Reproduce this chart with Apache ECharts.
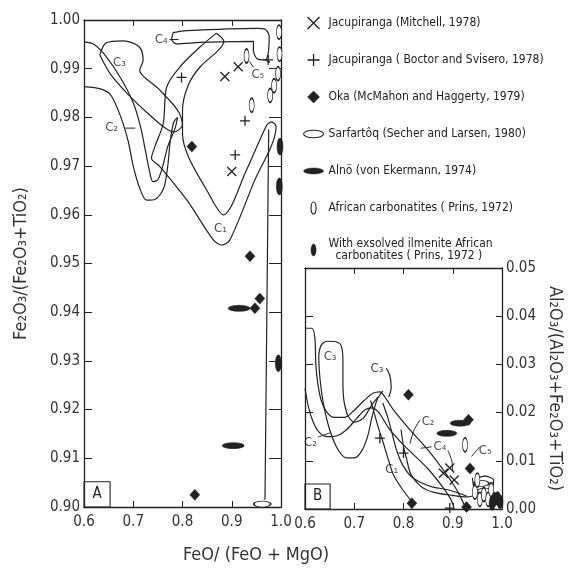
<!DOCTYPE html>
<html>
<head>
<meta charset="utf-8">
<script src="https://cdn.jsdelivr.net/npm/echarts/dist/echarts.min.js"></script>
<style>html,body{margin:0;padding:0;background:#fff}#main{width:569px;height:568px}</style>
</head>
<body>
<div id="main"></div>
<script>
// ---- data: panel A  (x = FeO/(FeO+MgO), y = Fe2O3/(Fe2O3+TiO2)) ----
var a_C1 = [[0.869,0.9973],[0.884,0.9956],[0.873,0.9938],[0.836,0.9904],[0.812,0.9867],[0.800,0.9815],[0.800,0.9767],[0.812,0.9719],[0.849,0.9651],[0.883,0.9600],[0.930,0.9692],[0.971,0.9784],[0.981,0.9791],[0.990,0.9781],[0.944,0.9665],[0.896,0.9548],[0.880,0.9538],[0.863,0.9548],[0.809,0.9630],[0.754,0.9699],[0.737,0.9716],[0.744,0.9740],[0.761,0.9788],[0.768,0.9863],[0.795,0.9904],[0.836,0.9945],[0.869,0.9973]];
var a_C2 = [[0.600,0.9863],[0.635,0.9858],[0.655,0.9845],[0.675,0.9800],[0.690,0.9750],[0.700,0.9700],[0.713,0.9655],[0.727,0.9630],[0.745,0.9632],[0.762,0.9655],[0.770,0.9700],[0.775,0.9750],[0.782,0.9790],[0.790,0.9800],[0.785,0.9778],[0.770,0.9740],[0.760,0.9700],[0.750,0.9672],[0.740,0.9668],[0.733,0.9690],[0.725,0.9730],[0.715,0.9780],[0.700,0.9830],[0.675,0.9880],[0.645,0.9925],[0.620,0.9950],[0.600,0.9955]];
var a_C3 = [[0.632,0.9928],[0.645,0.9953],[0.680,0.9957],[0.712,0.9945],[0.720,0.9917],[0.713,0.9897],[0.750,0.9860],[0.790,0.9815],[0.800,0.9785],[0.783,0.9770],[0.765,0.9778],[0.730,0.9808],[0.687,0.9850],[0.653,0.9890],[0.632,0.9928]];
var a_C4 = [[0.781,0.9974],[0.809,0.9978],[0.951,0.9983],[0.968,0.9981],[0.976,0.9966],[0.974,0.9932],[0.968,0.9918],[0.951,0.9921],[0.944,0.9938],[0.944,0.9956],[0.836,0.9954],[0.788,0.9951],[0.778,0.9960],[0.781,0.9974]];
var a_C4hook = [[0.968,0.9918],[0.978,0.9913]];
var a_sarfRange = [[0.975,0.9775],[0.9675,0.9015]];
var a_leaders = [[[0.774,0.9960],[0.792,0.9960]], [[0.684,0.9778],[0.704,0.9778]], [[0.944,0.9903],[0.936,0.9915]]];
var a_cLabels = [[0.877,0.9572,'C₁'],[0.656,0.9778,'C₂'],[0.672,0.9912,'C₃'],[0.757,0.9960,'C₄'],[0.953,0.9888,'C₅']];

var a_mitchell = [[0.886,0.9884],[0.913,0.9904],[0.900,0.9689]];
var a_boctor = [[0.798,0.9882],[0.907,0.9723],[0.927,0.9793],[0.974,0.9918]];
var a_oka = [[0.819,0.9740],[0.937,0.9515],[0.957,0.9428],[0.947,0.9408],[0.825,0.9025]];
var a_sarf = [[0.962,0.9006]];
var a_alno = [[0.915,0.9408],[0.903,0.9126]];
var a_african = [[0.930,0.9926],[0.9405,0.9825],[0.978,0.9845],[0.986,0.9865],[0.994,0.9890],[0.997,0.9930],[0.996,0.9975]];
var a_exsolved = [[0.9966,0.9658],[0.9946,0.9295],[0.998,0.9740]];

// ---- data: panel B  (x = FeO/(FeO+MgO), y = Al2O3/(Al2O3+Fe2O3+TiO2)) ----
var b_top = [[0.600,0.0375],[0.614,0.0375],[0.620,0.0355],[0.622,0.0300],[0.626,0.0260],[0.633,0.0225],[0.645,0.0200],[0.660,0.0190],[0.680,0.0190],[0.700,0.0205],[0.720,0.0225],[0.738,0.0240],[0.752,0.0243],[0.765,0.0228],[0.780,0.0205],[0.810,0.0168],[0.850,0.0122],[0.885,0.0075],[0.905,0.0045],[0.918,0.0020],[0.925,0.0005]];
var b_C3 = [[0.686,0.0195],[0.679,0.0225],[0.677,0.0265],[0.677,0.0310],[0.673,0.0340],[0.662,0.0347],[0.645,0.0348],[0.633,0.0340],[0.628,0.0315],[0.631,0.0265],[0.638,0.0215],[0.650,0.0165],[0.666,0.0125],[0.684,0.0106],[0.700,0.0106],[0.715,0.0120],[0.727,0.0150],[0.737,0.0195],[0.747,0.0228],[0.758,0.0245]];
var b_C3in = [[0.686,0.0195],[0.700,0.0180],[0.718,0.0188],[0.735,0.0215],[0.748,0.0232]];
var b_C2 = [[0.600,0.0250],[0.607,0.0212],[0.616,0.0182],[0.628,0.0160],[0.645,0.0150],[0.665,0.0152],[0.685,0.0165],[0.705,0.0188],[0.722,0.0206],[0.736,0.0210],[0.750,0.0200],[0.770,0.0168],[0.800,0.0133],[0.850,0.0083],[0.880,0.0045],[0.895,0.0022],[0.902,0.0005]];
var b_C4 = [[0.795,0.0165],[0.800,0.0130],[0.806,0.0105],[0.815,0.0072],[0.835,0.0047],[0.860,0.0035],[0.894,0.0029],[0.930,0.0025],[0.950,0.0030]];
var b_C1a = [[0.733,0.0225],[0.739,0.0205],[0.748,0.0172],[0.759,0.0137],[0.770,0.0100],[0.780,0.0070],[0.797,0.0042],[0.817,0.0015]];
var b_C1b = [[0.758,0.0220],[0.768,0.0190],[0.776,0.0160],[0.786,0.0122],[0.799,0.0090],[0.815,0.0068],[0.835,0.0055],[0.862,0.0045],[0.890,0.0040],[0.928,0.0027]];
var b_C3curl = [[0.765,0.0292],[0.772,0.0278],[0.775,0.0252],[0.770,0.0232]];
var b_C5 = [[0.940,0.0065],[0.945,0.0040],[0.960,0.0035],[0.980,0.0045],[0.983,0.0060],[0.965,0.0068],[0.945,0.0062]];
var b_leaders = [[[0.8335,0.0185],[0.822,0.0165],[0.8132,0.0136]], [[0.857,0.0129],[0.835,0.0126]], [[0.890,0.0122],[0.898,0.0100],[0.900,0.0080]], [[0.955,0.0129],[0.938,0.0109]], [[0.626,0.0149],[0.651,0.0158]]];
var b_cLabels = [[0.651,0.0316,'C₃'],[0.746,0.0292,'C₃'],[0.611,0.0137,'C₂'],[0.850,0.0181,'C₂'],[0.874,0.0129,'C₄'],[0.776,0.0081,'C₁'],[0.966,0.0122,'C₅']];

var b_mitchell = [[0.881,0.0074],[0.894,0.0085],[0.903,0.0060]];
var b_boctor = [[0.800,0.0116],[0.894,0.0002],[0.752,0.0147]];
var b_oka = [[0.810,0.0237],[0.932,0.0185],[0.935,0.0084],[0.817,0.0012],[0.928,0.0004]];
var b_sarf = [[0.958,0.0053],[0.965,0.0037]];
var b_alno = [[0.915,0.0178],[0.888,0.0157]];
var b_african = [[0.925,0.0133],[0.945,0.0035],[0.955,0.0020],[0.963,0.0030],[0.972,0.0020],[0.978,0.0040],[0.950,0.0060]];
var b_exsolved = [[0.985,0.0020],[0.991,0.0022],[0.996,0.0015],[0.980,0.0012]];

var names = ['Jacupiranga (Mitchell, 1978)', 'Jacupiranga ( Boctor and Svisero, 1978)', 'Oka (McMahon and Haggerty, 1979)', 'Sarfartôq (Secher and Larsen, 1980)', 'Alnö (von Ekermann, 1974)', 'African carbonatites ( Prins, 1972)', 'With exsolved ilmenite African\n  carbonatites ( Prins, 1972 )'];
</script>
<script>
var FONT = 'DejaVu Sans Condensed';
var INK = '#222';
var CROSS = 'path://M0,0L10,10M10,0L0,10';
var PLUS = 'path://M5,0L5,10M0,5L10,5';
var DIAM = 'path://M5,0L10,5L5,10L0,5Z';
var HELL = 'path://M0,3A8,3,0,1,1,16,3A8,3,0,1,1,0,3Z';
var HELL2 = 'path://M0,3A10,3,0,1,1,20,3A10,3,0,1,1,0,3Z';
var VELL = 'path://M2.5,0A2.5,6,0,1,1,2.5,12A2.5,6,0,1,1,2.5,0Z';
var VELL2 = 'path://M3,0A3,7,0,1,1,3,14A3,7,0,1,1,3,0Z';

var openStyle = {color:'#fff', borderColor:INK, borderWidth:1.1, opacity:1};
var fillStyle = {color:INK, borderColor:INK, borderWidth:0.5, opacity:1};
var strokeStyle = {color:INK, borderColor:INK, borderWidth:1.3, opacity:1};

function line(data, p){
    return {type:'line', xAxisIndex:p*2, yAxisIndex:p*2, data:data, symbol:'none', smooth:0.3,
        lineStyle:{color:INK, width:1.2}, silent:true, z:2, clip:false};
}
function marks(name, data, p, symbol, size, style){
    return {type:'scatter', name:name, xAxisIndex:p*2, yAxisIndex:p*2, data:data, symbol:symbol,
        symbolSize:size, itemStyle:style, z:5, silent:true};
}
function labels(list, p, box){
    return {type:'scatter', xAxisIndex:p*2, yAxisIndex:p*2, symbolSize:0, silent:true, z:6,
        data:list.map(function(d){ return {value:[d[0],d[1]], name:d[2]}; }),
        label:{show:true, position:'inside', formatter:'{b}', fontFamily:FONT, fontSize:13, color:'#222'},
        markArea:{silent:true, itemStyle:{color:'rgba(0,0,0,0)', borderColor:INK, borderWidth:1.1},
            label:{show:true, position:'inside', formatter:box.t, fontFamily:FONT, fontSize:15, color:'#222'},
            data:[[{coord:box.a},{coord:box.b}]]}};
}

var series = [];
[a_C1, a_C2, a_C3, a_C4, a_C4hook, a_sarfRange].forEach(function(d){ series.push(line(d,0)); });
a_leaders.forEach(function(d){ var s = line(d,0); s.smooth = false; s.lineStyle.width = 1; series.push(s); });
[b_top, b_C3, b_C3in, b_C2, b_C4, b_C1a, b_C1b, b_C3curl, b_C5].forEach(function(d){ series.push(line(d,1)); });
b_leaders.forEach(function(d){ var s = line(d,1); s.lineStyle.width = 1; series.push(s); });

series.push(marks(names[0], a_mitchell, 0, CROSS, 9, strokeStyle));
series.push(marks(names[1], a_boctor, 0, PLUS, 10, strokeStyle));
series.push(marks(names[2], a_oka, 0, 'diamond', [10,11], fillStyle));
series.push(marks(names[3], a_sarf, 0, 'circle', [17,6], openStyle));
series.push(marks(names[4], a_alno, 0, 'circle', [22,6], fillStyle));
series.push(marks(names[5], a_african, 0, 'circle', [5,14], openStyle));
series.push(marks(names[6], a_exsolved, 0, 'circle', [6,17], fillStyle));
series.push(marks(names[0], b_mitchell, 1, CROSS, 9, strokeStyle));
series.push(marks(names[1], b_boctor, 1, PLUS, 10, strokeStyle));
series.push(marks(names[2], b_oka, 1, 'diamond', [10,11], fillStyle));
series.push(marks(names[3], b_sarf, 1, 'circle', [15,6], openStyle));
series.push(marks(names[4], b_alno, 1, 'circle', [20,6], fillStyle));
series.push(marks(names[5], b_african, 1, 'circle', [5,14], openStyle));
series.push(marks(names[6], b_exsolved, 1, 'circle', [6,14], fillStyle));

series.push(labels(a_cLabels, 0, {t:'A', a:[0.6,0.9], b:[0.653,0.9052]}));
series.push(labels(b_cLabels, 1, {t:'B', a:[0.6,0.0], b:[0.651,0.0052]}));

var icons = [CROSS, PLUS, DIAM, HELL, HELL2, VELL, VELL2];
var iconStyles = [strokeStyle, strokeStyle, fillStyle, openStyle, fillStyle, openStyle, fillStyle];

function xAx(g, pos, showLabel){
    return {gridIndex:g, type:'value', min:0.6, max:1.0, interval:0.1, position:pos,
        axisLine:{show:true, onZero:false, lineStyle:{color:INK, width:1.3}},
        axisTick:{show:true, inside:true, length:6, lineStyle:{color:INK}},
        splitLine:{show:false},
        axisLabel:{show:showLabel, formatter:function(v){ return v.toFixed(1); }, fontFamily:FONT, fontSize:15, color:'#333', margin:8}};
}
function yAx(g, pos, min, max, showLabel, tick){
    return {gridIndex:g, type:'value', min:min, max:max, interval:0.01, position:pos,
        axisLine:{show:true, onZero:false, lineStyle:{color:INK, width:1.3}},
        axisTick:{show:true, inside:true, length:tick, lineStyle:{color:INK}},
        splitLine:{show:false},
        axisLabel:{show:showLabel, formatter:function(v){ return v.toFixed(2); }, fontFamily:FONT, fontSize:15, color:'#333', margin:4}};
}

var yA = yAx(0,'left',0.9,1.0,true,8);
yA.name = 'Fe₂O₃/(Fe₂O₃+TiO₂)'; yA.nameLocation = 'middle'; yA.nameRotate = 90; yA.nameGap = 54;
yA.nameTextStyle = {fontFamily:FONT, fontSize:18, color:'#333'};
var yA2 = yAx(0,'right',0.9,1.0,false,12);
var yB = yAx(1,'right',0,0.05,true,6);
yB.name = 'Al₂O₃/(Al₂O₃+Fe₂O₃+TiO₂)'; yB.nameLocation = 'middle'; yB.nameRotate = -90; yB.nameGap = 44;
yB.nameTextStyle = {fontFamily:FONT, fontSize:18, color:'#333'};
var yB2 = yAx(1,'left',0,0.05,false,8);

var legendData = names.map(function(n,i){ return {name:n, icon:icons[i], itemStyle:iconStyles[i]}; });
legendData[6].textStyle = {lineHeight:12};

var option = {
    animation:false,
    backgroundColor:'#fff',
    title:{text:'FeO/ (FeO + MgO)', left:178, top:541, textStyle:{fontFamily:FONT, fontSize:18, fontWeight:'normal', color:'#333'}},
    legend:{orient:'vertical', left:298, top:11, itemWidth:20, itemHeight:12, itemGap:23, symbolKeepAspect:true,
        selectedMode:false,
        textStyle:{fontFamily:FONT, fontSize:12, color:'#222', lineHeight:14},
        data:legendData},
    grid:[{left:84, top:20, width:197, height:487, outerBoundsMode:'none'},
          {left:305, top:268, width:197, height:241, outerBoundsMode:'none'}],
    xAxis:[xAx(0,'bottom',true), xAx(0,'top',false), xAx(1,'bottom',true), xAx(1,'top',false)],
    yAxis:[yA, yA2, yB, yB2],
    series:series
};

var myChart = echarts.init(document.getElementById('main'));
myChart.setOption(option);
</script>
</body>
</html>
